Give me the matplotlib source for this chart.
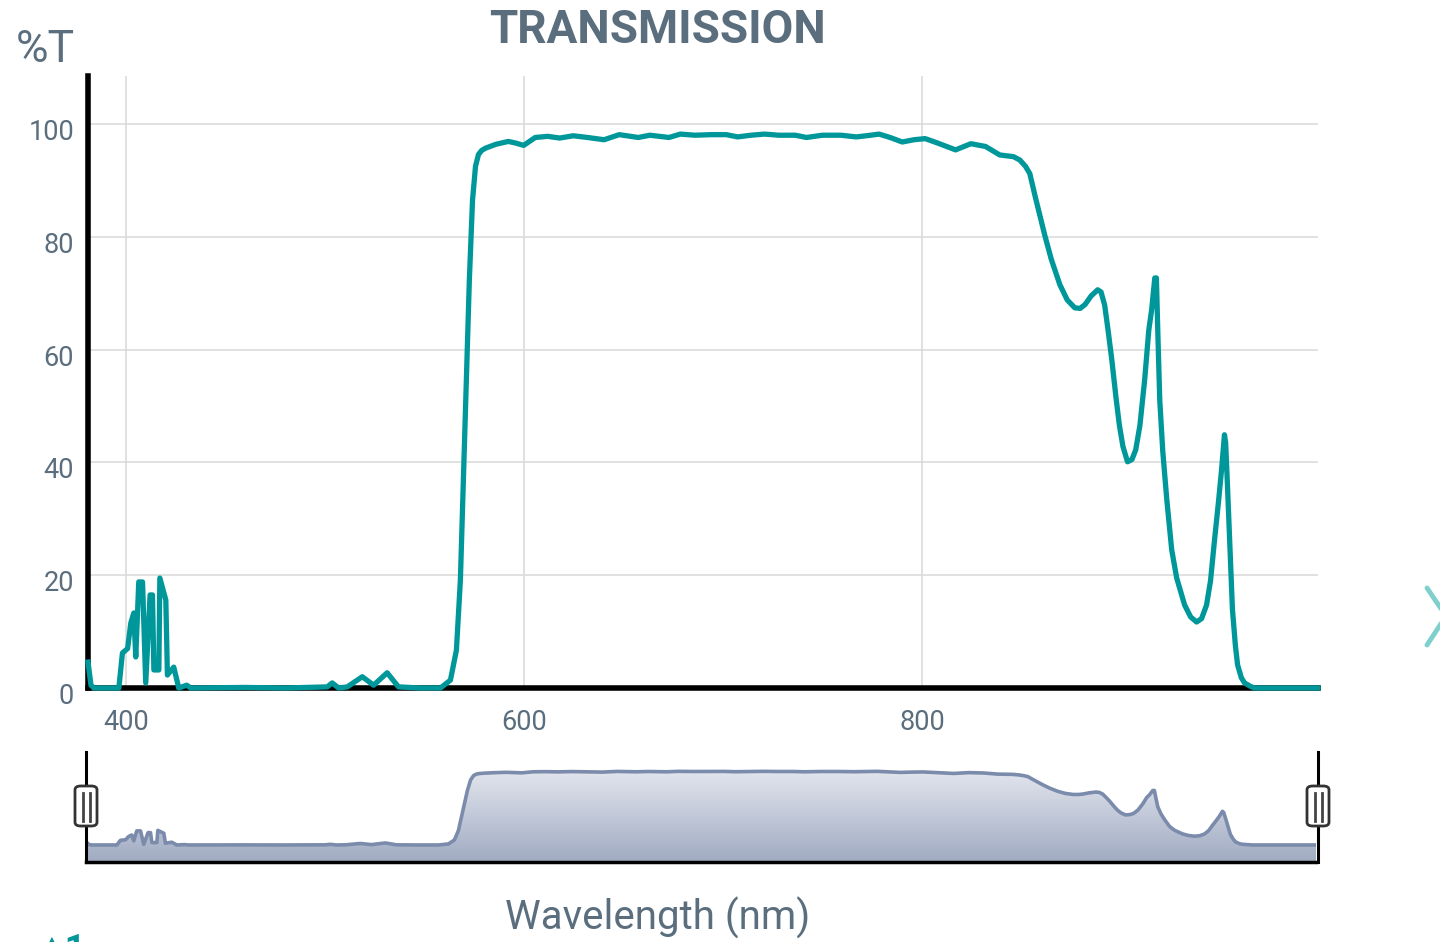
import numpy as np
import matplotlib.pyplot as plt
from matplotlib.colors import LinearSegmentedColormap
from matplotlib.patches import FancyBboxPatch
from matplotlib.lines import Line2D
from matplotlib.transforms import ScaledTranslation

plt.rcParams['font.family'] = ['Roboto', 'DejaVu Sans']

# wavelength (nm) and transmission (%)
wavelength = [381.0, 382.5, 384.0, 396.5, 398.3, 400.9, 402.5, 404.0, 405.0, 406.5,
              408.4, 410.0, 412.2, 413.4, 414.1, 416.6, 417.1, 420.1, 420.9, 424.1,
              426.6, 430.6, 432.6, 460.0, 480.0, 501.2, 503.7, 506.9, 511.3, 518.8,
              524.5, 531.3, 537.0, 548.1, 558.1, 563.1, 566.1, 568.1, 569.6, 571.1,
              572.6, 574.2, 575.7, 577.2, 578.8, 580.7, 586.0, 592.2, 596.0, 599.9,
              605.7, 612.0, 618.0, 624.8, 632.0, 640.3, 647.9, 657.5, 663.3, 672.9,
              678.6, 686.0, 694.0, 701.7, 707.4, 714.0, 720.9, 728.0, 736.3, 742.0,
              750.0, 759.3, 767.0, 772.0, 778.5, 784.0, 790.1, 796.0, 801.6, 808.0,
              816.9, 824.6, 832.0, 839.1, 846.0, 849.2, 852.0, 854.2, 857.0, 861.7,
              865.0, 869.3, 873.0, 876.8, 879.5, 882.0, 885.0, 888.3, 890.0, 891.8,
              893.5, 895.4, 897.5, 899.2, 901.0, 903.3, 905.5, 907.4, 909.5, 911.9,
              914.0, 915.4, 917.0, 917.8, 918.6, 919.5, 921.0, 923.0, 925.5, 928.0,
              932.0, 935.0, 938.0, 940.5, 943.0, 945.0, 947.0, 949.0, 950.5, 952.0,
              952.6, 953.5, 954.5, 956.0, 957.5, 958.6, 960.5, 962.1, 965.0, 967.1,
              980.0, 999.0]
transmission = [4.6, 0.5, 0.0, 0.0, 6.2, 7.0, 11.5, 13.3, 5.5, 18.8,
                18.8, 0.9, 16.5, 16.5, 3.2, 3.2, 19.5, 15.6, 2.3, 3.7,
                0.0, 0.5, 0.0, 0.1, 0.0, 0.2, 0.9, 0.0, 0.2, 2.0,
                0.5, 2.7, 0.2, 0.0, 0.0, 1.4, 6.7, 19.1, 36.9, 54.6,
                72.3, 86.5, 92.5, 94.6, 95.3, 95.7, 96.4, 96.9, 96.6, 96.2,
                97.6, 97.8, 97.5, 97.9, 97.6, 97.2, 98.1, 97.6, 98.0, 97.6,
                98.2, 98.0, 98.1, 98.1, 97.7, 98.0, 98.2, 98.0, 98.0, 97.6,
                98.0, 98.0, 97.7, 97.9, 98.2, 97.6, 96.8, 97.2, 97.4, 96.6,
                95.4, 96.5, 96.0, 94.5, 94.2, 93.6, 92.5, 91.2, 87.0, 80.3,
                76.0, 71.5, 68.8, 67.4, 67.3, 68.0, 69.5, 70.6, 70.2, 67.9,
                63.5, 58.2, 51.5, 46.6, 42.8, 40.1, 40.5, 42.2, 46.5, 54.6,
                63.5, 67.0, 72.7, 72.7, 62.0, 51.0, 42.0, 33.5, 24.5, 19.5,
                14.7, 12.6, 11.7, 12.3, 14.7, 19.0, 26.2, 33.0, 38.5, 44.9,
                43.5, 36.0, 27.0, 14.0, 7.5, 4.1, 1.8, 0.9, 0.3, 0.0,
                0.0, 0.0]

x_ticks = [400, 600, 800]
y_ticks = [0, 20, 40, 60, 80, 100]

teal = '#00979a'
text_col = '#5b6e7e'

fig = plt.figure(figsize=(14.4, 9.42), dpi=100)

# main chart
ax = fig.add_axes([88 / 1440, 1 - 688 / 942, (1318 - 88) / 1440, (688 - 76) / 942])
ax.set_xlim(381, 999)
ax.set_ylim(0, 108.5)
ax.plot(wavelength, transmission, color=teal, lw=3.8, zorder=5, clip_on=False,
        solid_joinstyle='round')
ax.set_xticks(x_ticks)
ax.set_yticks(y_ticks)
ax.grid(True, color='#dcdcdc', lw=1.2)
ax.set_axisbelow(True)
for s in ['top', 'right']:
    ax.spines[s].set_visible(False)
ax.spines['left'].set_linewidth(4)
ax.spines['bottom'].set_linewidth(4)
ax.tick_params(length=0, labelsize=19.5, colors=text_col, pad=10)
ax.tick_params(axis='x', pad=15)
# y labels sit a little below their grid lines in the original
shift = ScaledTranslation(0, -0.055, fig.dpi_scale_trans)
for lab in ax.get_yticklabels():
    lab.set_transform(lab.get_transform() + shift)

fig.text(658 / 1440, 1 - 30 / 942, 'TRANSMISSION', ha='center', va='center',
         fontsize=33, fontweight='bold', color=text_col)
fig.text(16 / 1440, 1 - 50 / 942, '%T', ha='left', va='center',
         fontsize=32, color=text_col)
fig.text(658 / 1440, 1 - 918 / 942, 'Wavelength (nm)', ha='center', va='center',
         fontsize=29, color=text_col)

# overview strip under the chart
mini = fig.add_axes([86 / 1440, 1 - 862 / 942, (1316 - 86) / 1440, (862 - 752) / 942])
ymin, ymax = -22.7, 124
poly = mini.fill_between(wavelength, transmission, ymin, color='none', lw=0)
grad = np.linspace(0, 1, 256).reshape(-1, 1)
cmap = LinearSegmentedColormap.from_list('g', ['#f0f1f6', '#a0abc2'])
img = mini.imshow(grad, cmap=cmap, aspect='auto', extent=[381, 999, ymin, ymax],
                  origin='upper', zorder=1)
img.set_clip_path(poly.get_paths()[0], transform=mini.transData)
mini.set_xlim(381, 999)
mini.set_ylim(ymin, ymax)
mini.plot(wavelength, transmission, color='#7b8bab', lw=2.6, zorder=3)
mini.set_xticks([])
mini.set_yticks([])
for s in ['top', 'left', 'right']:
    mini.spines[s].set_visible(False)
mini.spines['bottom'].set_linewidth(2.5)

# range handles
for xc in [86, 1318]:
    fig.add_artist(Line2D([xc / 1440, xc / 1440], [1 - 752 / 942, 1 - 862 / 942],
                          color='black', lw=2.2, transform=fig.transFigure, zorder=6))
    box = FancyBboxPatch(((xc - 11) / 1440, 1 - 826 / 942), 22 / 1440, 40 / 942,
                         boxstyle='round,pad=0,rounding_size=0.004',
                         transform=fig.transFigure, facecolor='white',
                         edgecolor='#333333', lw=2, zorder=7)
    fig.add_artist(box)
    for dx in [-3.5, 3.5]:
        fig.add_artist(Line2D([(xc + dx) / 1440] * 2, [1 - 793 / 942, 1 - 821 / 942],
                              color='#444444', lw=2, transform=fig.transFigure, zorder=8))

# navigation arrow cut at the right edge
fig.add_artist(Line2D([1427 / 1440, 1446 / 1440, 1427 / 1440],
                      [1 - 588 / 942, 1 - 616 / 942, 1 - 645 / 942],
                      color='#7fd0cc', lw=3.5, solid_capstyle='round',
                      transform=fig.transFigure))
# partly hidden marker at the lower left, cut off as in the original
fig.text(38 / 1440, 1 - 950 / 942, '\u25b21', fontsize=26, fontweight='bold',
         color=teal, ha='left', va='center')

fig.savefig('out.png', dpi=100)
